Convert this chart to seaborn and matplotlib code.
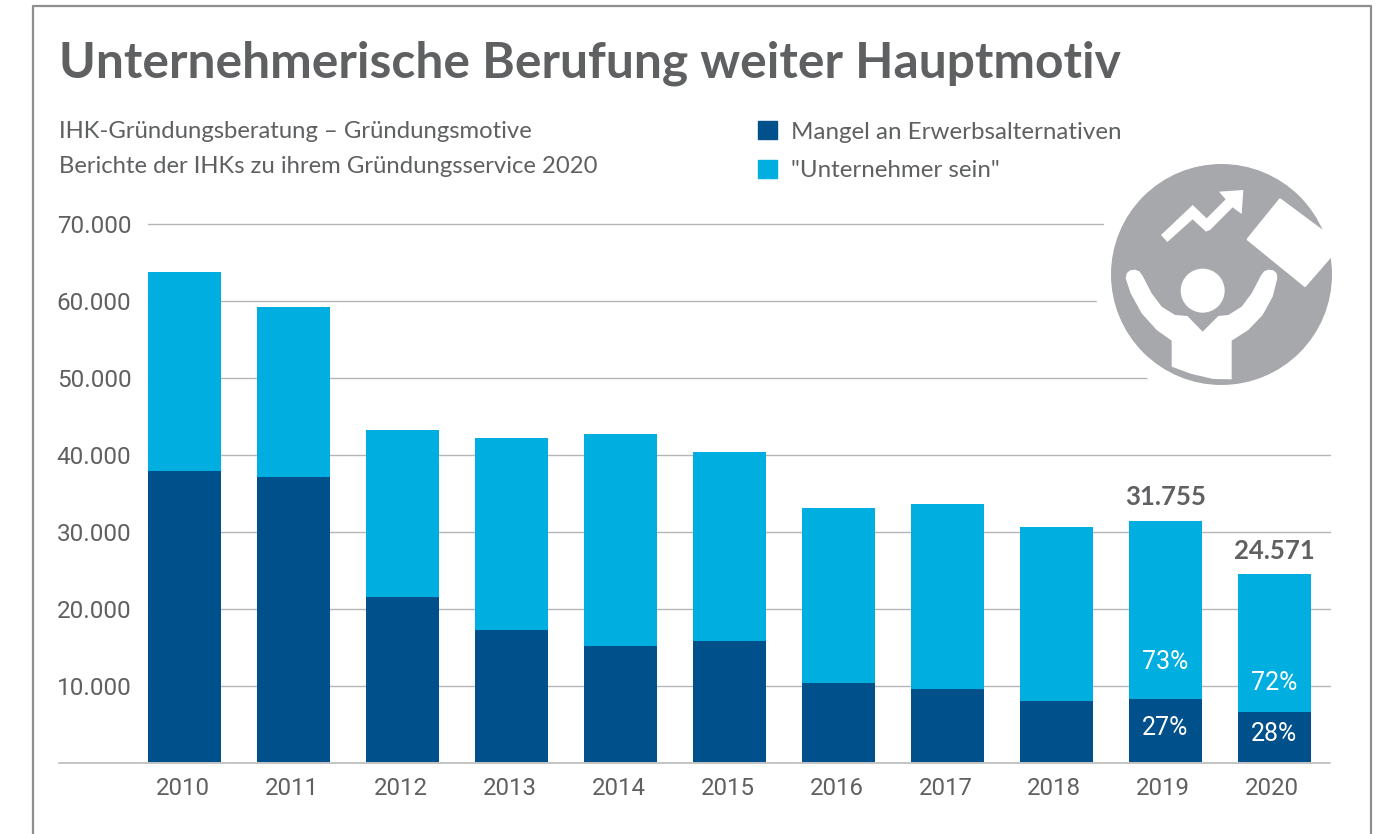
import numpy as np
import pandas as pd
import seaborn as sns
import matplotlib.pyplot as plt
from matplotlib.lines import Line2D
from matplotlib.patches import Circle, Polygon, Rectangle
from matplotlib.transforms import ScaledTranslation

# Werte
jahre = ["2010", "2011", "2012", "2013", "2014", "2015", "2016", "2017", "2018", "2019", "2020"]
mangel = [37920, 37140, 21560, 17270, 15200, 15840, 10390, 9610, 8050, 8300, 6620]
unternehmer = [25850, 22080, 21690, 24940, 27530, 24550, 22730, 24030, 22600, 23130, 17900]
y_ticks = [10000, 20000, 30000, 40000, 50000, 60000, 70000]
summen = {"2019": "31.755", "2020": "24.571"}
anteil_mangel = {"2019": "27%", "2020": "28%"}
anteil_unternehmer = {"2019": "73%", "2020": "72%"}

DUNKEL = "#00508c"
HELL = "#00aee0"
GRAU = "#5f6062"
W, H = 1386, 834

sns.set_theme(style="white")
plt.rcParams["font.family"] = ["Lato", "DejaVu Sans"]
ROBOTO = ["Roboto", "DejaVu Sans"]

df = pd.DataFrame({"jahr": jahre, "mangel": mangel, "unternehmer": unternehmer})

fig = plt.figure(figsize=(W / 100, H / 100), dpi=100, facecolor="white")
ax = fig.add_axes([148 / W, 1 - 763 / H, (1330 - 148) / W, (763 - 224) / H])

sns.barplot(data=df, x="jahr", y="mangel", color=DUNKEL, saturation=1, width=0.672, linewidth=0, ax=ax, zorder=3)
sns.barplot(data=df, x="jahr", y="unternehmer", bottom=df["mangel"], color=HELL, saturation=1, width=0.672,
            linewidth=0, ax=ax, zorder=3)

ax.set_xlim(-0.336, 10.51)
ax.set_ylim(0, 70000)
ax.set_yticks(y_ticks)
ax.set_yticklabels([f"{v:,}".replace(",", ".") for v in y_ticks])
ax.set_xlabel("")
ax.set_ylabel("")
ax.tick_params(axis="y", length=0, pad=12, labelsize=17.5, labelcolor=GRAU)
ax.tick_params(axis="x", length=0, pad=10, labelsize=17.3, labelcolor=GRAU)
for lab in ax.get_yticklabels():
    lab.set_family(ROBOTO)
for lab in ax.get_xticklabels():
    lab.set_family(ROBOTO)
    lab.set_transform(lab.get_transform() + ScaledTranslation(-1.5 / 72, 0, fig.dpi_scale_trans))
ax.grid(axis="y", color="#b4b5b7", lw=1)
for g in ax.get_ygridlines():
    g.set_clip_on(False)
ax.set_axisbelow(True)
sns.despine(ax=ax, left=True, bottom=True, top=True, right=True)

# Summen und Anteile
for i, j in enumerate(jahre):
    if j in summen:
        ges = mangel[i] + unternehmer[i]
        ax.annotate(summen[j], (i, ges), xytext=(0, 17), textcoords="offset points",
                    ha="center", va="center", fontsize=18.5, fontweight="bold", color=GRAU, zorder=5)
        ax.text(i, mangel[i] / 2 + 400, anteil_mangel[j], ha="center", va="center", color="white",
                fontsize=18, family=ROBOTO, zorder=5)
        ax.text(i, mangel[i] + 0.21 * unternehmer[i], anteil_unternehmer[j], ha="center", va="center", color="white",
                fontsize=18, family=ROBOTO, zorder=5)

# Overlay in Pixeln: Rahmen, Titel, Icon
ov = fig.add_axes([0, 0, 1, 1], facecolor="none")
ov.set_xlim(0, W)
ov.set_ylim(H, 0)
ov.axis("off")

ov.add_line(Line2D([59, 1330], [763, 763], color="#c4c4c4", lw=1.4, zorder=1))
ov.add_line(Line2D([33, 33, 1371, 1371], [834, 6, 6, 834], color="#8e8e8e", lw=1.6))

ov.text(59, 63, "Unternehmerische Berufung weiter Hauptmotiv", fontsize=35.8, fontweight="bold",
        color=GRAU, va="center", ha="left")
ov.text(59, 131, "IHK-Gründungsberatung – Gründungsmotive", fontsize=17.2, color=GRAU, va="center", ha="left")
ov.text(59, 166, "Berichte der IHKs zu ihrem Gründungsservice 2020", fontsize=17.2, color=GRAU, va="center", ha="left")

handles = [Rectangle((0, 0), 1, 1, color=DUNKEL), Rectangle((0, 0), 1, 1, color=HELL)]
leg = ov.legend(handles, ["Mangel an Erwerbsalternativen", '"Unternehmer sein"'],
                loc="upper left", bbox_to_anchor=(758 / W, 1 - 121 / H), bbox_transform=fig.transFigure,
                frameon=False, fontsize=17.4, handlelength=0.8, handleheight=0.8, handletextpad=0.58,
                labelspacing=0.7, borderpad=0, borderaxespad=0, labelcolor=GRAU)


# Icon-Koordinaten aus dem Zoom (x3, Versatz 1080/150)
def ip(pts):
    return [(1080 + x / 3, 150 + y / 3) for x, y in pts]


ov.add_patch(Circle((1221.5, 274.5), 127, color="white", zorder=2))
ov.add_patch(Rectangle((1221, 200), 115, 190, color="white", lw=0, zorder=2))
ov.add_patch(Circle((1221.5, 274.5), 110.5, color="#a7a8ab", lw=0, zorder=3))
pfeil = [(243, 255), (262, 276), (338, 208), (378, 245), (390, 240), (458, 172), (485, 192),
         (490, 120), (417, 125), (437, 148), (380, 205), (338, 165)]
ov.add_patch(Polygon(ip(pfeil), color="white", lw=0, zorder=4))
heft = [(600, 148), (783, 284), (675, 408), (503, 268)]
ov.add_patch(Polygon(ip(heft), fc="white", ec="white", lw=1.5, joinstyle="round", zorder=4))
ov.add_patch(Circle(ip([(368, 422)])[0], 22, color="white", lw=0, zorder=4))
person = [(137, 385), (140, 370), (150, 361), (165, 359), (178, 364), (188, 378), (215, 430), (245, 470), (285, 495),
          (322, 498), (368, 545), (415, 498), (445, 495), (485, 470), (515, 430), (542, 378), (552, 364),
          (565, 359), (580, 361), (590, 370), (592, 385), (578, 440), (548, 495), (505, 540), (455, 572), (455, 688),
          (400, 687), (335, 672), (275, 650), (275, 572), (230, 540), (185, 490), (152, 430)]
ov.add_patch(Polygon(ip(person), color="white", lw=0, zorder=4))

fig.savefig("out.png", dpi=100, facecolor="white")
